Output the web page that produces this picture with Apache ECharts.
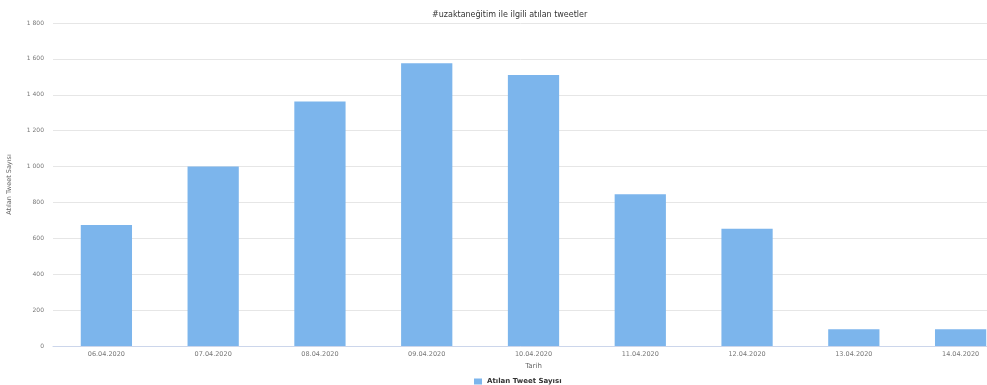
<!DOCTYPE html>
<html>
<head>
<meta charset="utf-8">
<script src="https://cdn.jsdelivr.net/npm/echarts@6/dist/echarts.min.js"></script>
<style>
  html, body { margin: 0; padding: 0; background: #ffffff; }
  #chart { width: 987px; height: 385px; }
</style>
</head>
<body>
<div id="chart"></div>
<script>
// Daily tweet counts for the hashtag
const dates = ['06.04.2020', '07.04.2020', '08.04.2020', '09.04.2020', '10.04.2020',
               '11.04.2020', '12.04.2020', '13.04.2020', '14.04.2020'];
const tweetCounts = [675, 1000, 1362, 1576, 1510, 845, 654, 94, 94];
const chartTitle = '#uzaktaneğitim ile ilgili atılan tweetler';
const seriesName = 'Atılan Tweet Sayısı';
const xAxisTitle = 'Tarih';
const yAxisTitle = 'Atılan Tweet Sayısı';

const font = '"DejaVu Sans", Verdana, sans-serif';

// Thousands grouped with a space, e.g. 1 800
function groupThousands(v) {
  return String(v).replace(/\B(?=(\d{3})+(?!\d))/g, ' ');
}

const chart = echarts.init(document.getElementById('chart'), null, { renderer: 'canvas' });

chart.setOption({
  animation: false,
  backgroundColor: '#ffffff',
  title: {
    text: chartTitle,
    left: 427,
    top: 6,
    textStyle: { fontFamily: font, fontSize: 8, fontWeight: 'normal', color: '#333333' }
  },
  legend: {
    data: [seriesName],
    left: 469,
    top: 373,
    itemWidth: 8,
    itemHeight: 6,
    itemGap: 6,
    icon: 'rect',
    textStyle: { fontFamily: font, fontSize: 7, fontWeight: 'bold', color: '#333333' }
  },
  // the plot runs past the right edge of the canvas, so the last bar is clipped
  grid: {
    left: 53, right: -27, top: 23, bottom: 39,
    containLabel: false,
    outerBoundsMode: 'none'
  },
  xAxis: {
    type: 'category',
    data: dates,
    name: xAxisTitle,
    nameLocation: 'middle',
    nameGap: 16,
    nameTextStyle: { fontFamily: font, fontSize: 7, color: '#666666' },
    axisLine: { lineStyle: { color: '#ccd6eb', width: 1 } },
    axisTick: { show: false },
    axisLabel: { fontFamily: font, fontSize: 6.5, color: '#777777', margin: 5 },
    splitLine: { show: false }
  },
  yAxis: {
    type: 'value',
    min: 0,
    max: 1800,
    interval: 200,
    name: yAxisTitle,
    nameLocation: 'middle',
    nameGap: 40,
    nameTextStyle: { fontFamily: font, fontSize: 6.5, color: '#666666' },
    axisLine: { show: false },
    axisTick: { show: false },
    axisLabel: {
      fontFamily: font, fontSize: 6, color: '#777777', margin: 9,
      formatter: groupThousands
    },
    splitLine: { lineStyle: { color: '#e6e6e6', width: 1 } }
  },
  series: [{
    name: seriesName,
    type: 'bar',
    data: tweetCounts,
    barWidth: '48%',
    itemStyle: { color: '#7cb5ec' }
  }]
});
</script>
</body>
</html>
